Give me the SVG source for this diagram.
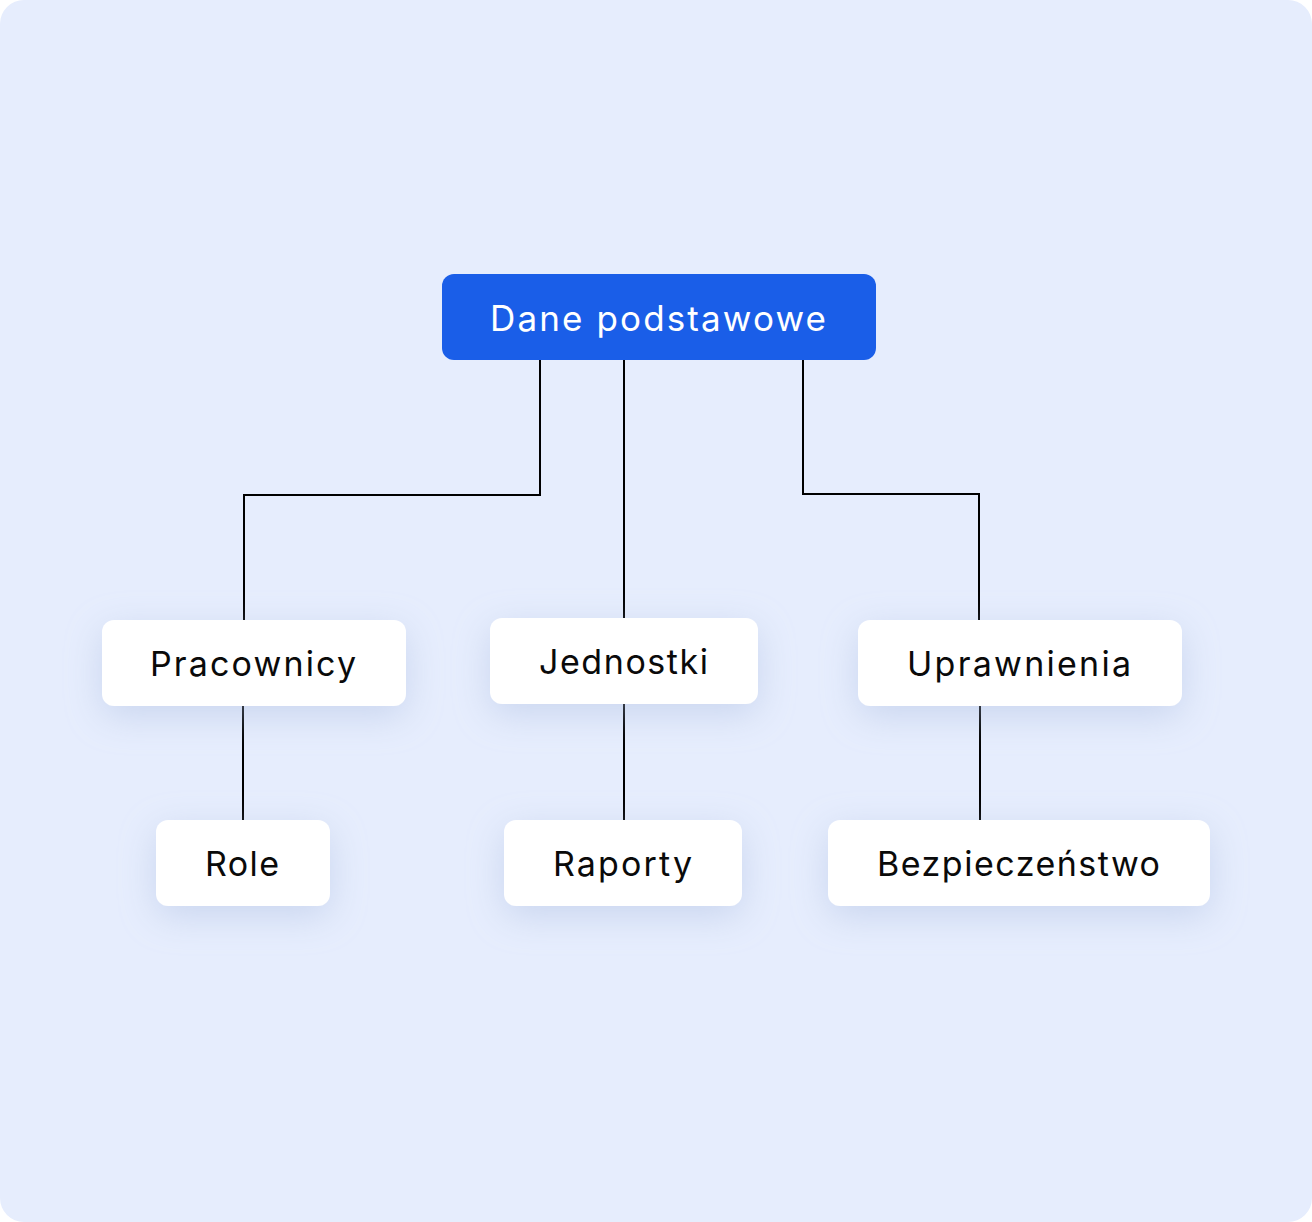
<svg xmlns="http://www.w3.org/2000/svg" width="1312" height="1222" viewBox="0 0 1312 1222">
  <defs>
    <filter id="shadow" x="-40%" y="-70%" width="180%" height="240%">
      <feGaussianBlur in="SourceAlpha" stdDeviation="18"/>
      <feOffset dx="0" dy="10" result="b"/>
      <feFlood flood-color="#a7b9de" flood-opacity="0.45"/>
      <feComposite in2="b" operator="in"/>
      <feMerge><feMergeNode/><feMergeNode in="SourceGraphic"/></feMerge>
    </filter>
  </defs>
  <style>
    .box { fill: #ffffff; filter: url(#shadow); }
    .root { fill: #1a5ee8; }
    .lbl { font-family: "Inter", "Liberation Sans", sans-serif; font-size: 34px; fill: #0a0a0a; text-anchor: middle; }
    .rootlbl { font-family: "Inter", "Liberation Sans", sans-serif; font-size: 35px; fill: #ffffff; text-anchor: middle; }
    .conn { fill: none; stroke: #000000; stroke-width: 2; }
  </style>
  <rect x="0" y="0" width="1312" height="1222" rx="24" fill="#e6edfd"/>

  <g id="connectors">
    <path class="conn" d="M540 360 V495 H244 V620"/>
    <path class="conn" d="M624 360 V618"/>
    <path class="conn" d="M803 360 V494 H979 V620"/>
    <path class="conn" d="M243 706 V820"/>
    <path class="conn" d="M624 704 V820"/>
    <path class="conn" d="M980 706 V820"/>
  </g>

  <g id="node-dane">
    <rect class="root" x="442" y="274" width="434" height="86" rx="12"/>
    <text class="rootlbl" x="658" y="331" textLength="336" lengthAdjust="spacing">Dane podstawowe</text>
  </g>
  <g id="node-pracownicy">
    <rect class="box" x="102" y="620" width="304" height="86" rx="12"/>
    <text class="lbl" x="253" y="676" textLength="206" lengthAdjust="spacing">Pracownicy</text>
  </g>
  <g id="node-jednostki">
    <rect class="box" x="490" y="618" width="268" height="86" rx="12"/>
    <text class="lbl" x="623.5" y="674" textLength="169" lengthAdjust="spacing">Jednostki</text>
  </g>
  <g id="node-uprawnienia">
    <rect class="box" x="858" y="620" width="324" height="86" rx="12"/>
    <text class="lbl" x="1019" y="676" textLength="224" lengthAdjust="spacing">Uprawnienia</text>
  </g>
  <g id="node-role">
    <rect class="box" x="156" y="820" width="174" height="86" rx="12"/>
    <text class="lbl" x="242" y="876" textLength="74" lengthAdjust="spacing">Role</text>
  </g>
  <g id="node-raporty">
    <rect class="box" x="504" y="820" width="238" height="86" rx="12"/>
    <text class="lbl" x="622.5" y="876" textLength="139" lengthAdjust="spacing">Raporty</text>
  </g>
  <g id="node-bezpieczenstwo">
    <rect class="box" x="828" y="820" width="382" height="86" rx="12"/>
    <text class="lbl" x="1018.5" y="876" textLength="283" lengthAdjust="spacing">Bezpieczeństwo</text>
  </g>
</svg>
